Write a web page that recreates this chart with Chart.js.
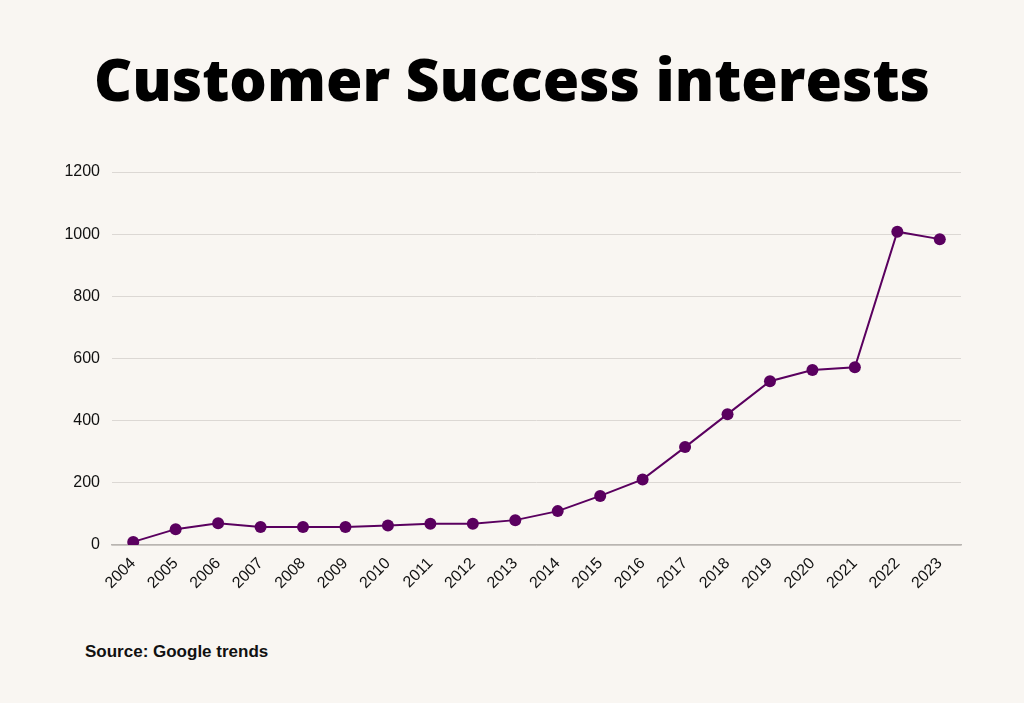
<!DOCTYPE html>
<html>
<head>
<meta charset="utf-8">
<script src="https://cdn.jsdelivr.net/npm/chart.js@4.4.0/dist/chart.umd.min.js"></script>
<style>
  html, body { margin: 0; padding: 0; background: #f9f6f2; width: 1024px; height: 703px; overflow: hidden; }
  #title { position: absolute; left: 0; top: 38px; width: 1024px; text-align: center;
    font-family: "Open Sans", sans-serif; font-weight: 800; font-size: 59px; color: #000; line-height: 80px; }
  #source { position: absolute; left: 85px; top: 642px; font-family: "Liberation Sans", sans-serif;
    font-weight: 700; font-size: 17px; color: #111; }
  #wrap { position: absolute; left: 0; top: 150px; width: 1024px; height: 455px; }
</style>
</head>
<body>
<div id="title">Customer Success interests</div>
<div id="wrap"><canvas id="c"></canvas></div>
<div id="source">Source: Google trends</div>
<script>
const years = ["2004","2005","2006","2007","2008","2009","2010","2011","2012","2013","2014","2015","2016","2017","2018","2019","2020","2021","2022","2023"];
const interest = [10, 51, 70, 58, 58, 58, 63, 68, 68, 80, 109, 158, 211, 315, 421, 527, 563, 572, 1008, 984];
const yTicks = [0, 200, 400, 600, 800, 1000, 1200];

const purple = "#5a005f";
new Chart(document.getElementById("c"), {
  type: "line",
  data: {
    labels: years,
    datasets: [{
      data: interest,
      borderColor: purple,
      backgroundColor: purple,
      borderWidth: 2,
      pointRadius: 6,
      pointHoverRadius: 6,
      pointBackgroundColor: purple,
      pointBorderWidth: 0,
      tension: 0
    }]
  },
  options: {
    responsive: true,
    maintainAspectRatio: false,
    animation: false,
    layout: { padding: { top: 22, right: 63, left: 0, bottom: 0 } },
    plugins: { legend: { display: false }, tooltip: { enabled: false } },
    scales: {
      x: {
        offset: true,
        grid: { display: false, drawTicks: false },
        border: { display: true, color: "#b9b5b1", width: 1.5 },
        ticks: {
          color: "#111",
          font: { family: "Liberation Sans", size: 16 },
          minRotation: 45, maxRotation: 45, padding: 9
        },
        afterFit: s => { s.height = 60; }
      },
      y: {
        min: 0, max: 1200,
        afterBuildTicks: s => { s.ticks = yTicks.map(v => ({ value: v })); },
        grid: { color: "#dcd8d4", lineWidth: 1, drawTicks: false },
        border: { display: false },
        ticks: {
          color: "#111",
          font: { family: "Liberation Sans", size: 16 },
          padding: 12,
          callback: v => String(v)
        },
        afterFit: s => { s.width = 112; }
      }
    }
  }
});
</script>
</body>
</html>
